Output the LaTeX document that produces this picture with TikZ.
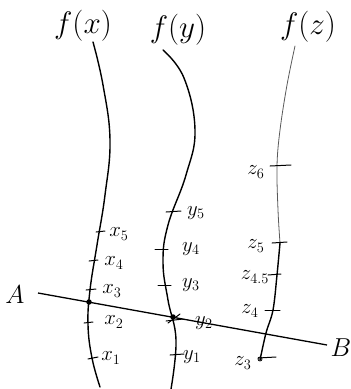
\documentclass[tikz,border=0pt]{standalone}
\begin{document}
\begin{tikzpicture}[x=1pt,y=-1pt,
  curve/.style={line width=1.4pt,line cap=round},
  thin curve/.style={line width=0.8pt,black!65,line cap=round},
  tick/.style={line width=1pt,line cap=round},
  lab/.style={font=\LARGE,inner sep=0pt},
  head/.style={font=\Huge,inner sep=0pt},
  dot/.style={circle,fill=black,inner sep=0pt,minimum size=5.5pt}]
\useasboundingbox (0,0) rectangle (351,389);
% headings
\node[head] (fx) at (83,26) {\scalebox{1.25}{$f(x)$}};
\node[head] (fy) at (178,30) {\scalebox{1.25}{$f(y)$}};
\node[head] (fz) at (308,27) {\scalebox{1.25}{$f(z)$}};
% curves
\draw[curve] plot[smooth,tension=0.7] coordinates {(93,42) (103,85) (110,140) (105,195) (97,245) (90,290) (88,325) (92,358) (100,387)};
\draw[curve] plot[smooth,tension=0.7] coordinates {(163,50) (184,78) (195,130) (186,175) (168,225) (163,262) (168,300) (176,340) (171,389)};
\draw[thin curve] plot[smooth,tension=0.6] coordinates {(295,46) (287,85) (280,130) (277,166) (278,210) (280,243)};
\draw[curve] plot[smooth,tension=0.6] coordinates {(280,243) (277,275) (273,310) (266,333) (260,360)};
% line AB
\node[font=\huge,inner sep=0pt] (A) at (15,295) {\scalebox{1.25}{$A$}};
\node[font=\huge,inner sep=0pt] (B) at (341,348) {\scalebox{1.25}{$B$}};
\coordinate (a) at (38,293);
\coordinate (b) at (327,345);
\draw[line width=1.3pt] (a) -- (b);
\node[dot] (px) at (89,302) {};
\node[dot] (py) at (173,317) {};
% x ticks
\draw[tick] (96,232) -- (105,231);
\draw[tick] (89,261) -- (98,260);
\draw[tick] (86,290) -- (96,289);
\draw[tick] (84,323) -- (93,322);
\draw[tick] (88,359) -- (98,357);
\node[lab] (x5) at (119,234) {\scalebox{1.2}{$x_5$}};
\node[lab] (x4) at (114,263) {\scalebox{1.2}{$x_4$}};
\node[lab] (x3) at (112,291) {\scalebox{1.2}{$x_3$}};
\node[lab] (x2) at (114,322) {\scalebox{1.2}{$x_2$}};
\node[lab] (x1) at (111,358) {\scalebox{1.2}{$x_1$}};
% y ticks
\draw[tick] (166,212) -- (181,211);
\draw[tick] (155,249) -- (168,249);
\draw[tick] (158,285) -- (171,285);
\draw[tick] (166,321) -- (183,319);
\draw[tick] (168,323) -- (180,314);
\draw[tick] (170,355) -- (184,354);
\node[lab] (y5) at (196,213) {\scalebox{1.2}{$y_5$}};
\node[lab] (y4) at (191,249) {\scalebox{1.2}{$y_4$}};
\node[lab] (y3) at (191,285) {\scalebox{1.2}{$y_3$}};
\node[lab] (y2) at (204,323) {\scalebox{1.2}{$y_2$}};
\node[lab] (y1) at (192,357) {\scalebox{1.2}{$y_1$}};
% z ticks
\draw[tick] (270,166) -- (291,165);
\draw[tick] (272,243) -- (287,242);
\draw[tick] (268,275) -- (281,274);
\draw[tick] (265,310) -- (280,310);
\draw[tick] (258,358) -- (276,357);
\draw[line width=0.8pt] (260,359) circle (2pt);
\node[lab] (z6) at (256,172) {\scalebox{1.2}{$z_6$}};
\node[lab] (z5) at (256,246) {\scalebox{1.2}{$z_5$}};
\node[lab] (z45) at (255,277) {\scalebox{1.2}{$z_{4.5}$}};
\node[lab] (z4) at (250,311) {\scalebox{1.2}{$z_4$}};
\node[lab] (z3) at (243,363) {\scalebox{1.2}{$z_3$}};
\end{tikzpicture}
\end{document}
